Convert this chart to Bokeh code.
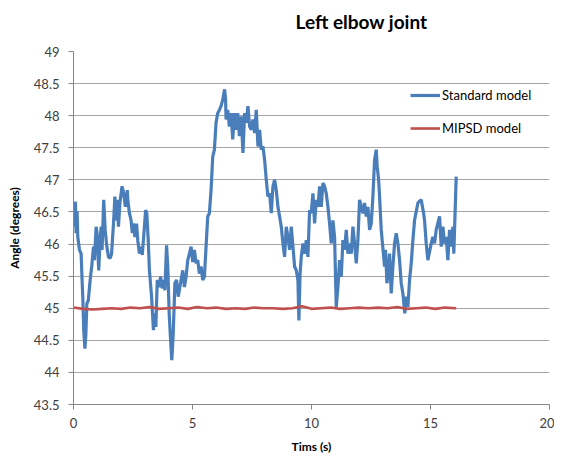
from bokeh.plotting import figure
from bokeh.models import Range1d, FixedTicker, Legend, LegendItem, Title
from bokeh.embed import file_html
from bokeh.resources import INLINE

title_text = "Left elbow joint"
x_label = "Tims (s)"
y_label = "Angle (degrees)"
series_names = ["Standard model", "MIPSD model"]

x_ticks = [0, 5, 10, 15, 20]
y_ticks = [43.5, 44, 44.5, 45, 45.5, 46, 46.5, 47, 47.5, 48, 48.5, 49]
y_tick_labels = ["43.5", "44", "44.5", "45", "45.5", "46", "46.5", "47", "47.5", "48", "48.5", "49"]

std_t = [0.04, 0.08, 0.11, 0.15, 0.18, 0.25, 0.32, 0.36, 0.39, 0.43, 0.48, 0.52, 0.56, 0.62, 0.70, 0.77,
         0.84, 0.88, 0.95, 0.99, 1.06, 1.11, 1.16, 1.20, 1.27, 1.33, 1.40, 1.47, 1.54, 1.60, 1.68, 1.74,
         1.78, 1.83, 1.89, 1.95, 2.04, 2.11, 2.18, 2.26, 2.28, 2.35, 2.42, 2.47, 2.52, 2.58, 2.65, 2.70,
         2.77, 2.84, 2.89, 2.96, 3.03, 3.08, 3.14, 3.19, 3.28, 3.36, 3.40, 3.46, 3.52, 3.59, 3.66, 3.73,
         3.80, 3.84, 3.91, 3.96, 4.02, 4.08, 4.13, 4.19, 4.26, 4.33, 4.40,
         4.52, 4.59, 4.66, 4.73, 4.80, 4.87, 4.94, 5.01, 5.08, 5.15, 5.22, 5.29, 5.36, 5.43, 5.50, 5.57,
         5.64, 5.71, 5.78, 5.85, 5.92, 5.99, 6.06, 6.13, 6.20, 6.27, 6.35, 6.39, 6.41, 6.48, 6.55, 6.62,
         6.69, 6.76, 6.83, 6.90, 6.97, 7.05, 7.12, 7.19, 7.26, 7.33, 7.40, 7.47, 7.54, 7.61, 7.68, 7.75,
         7.82, 7.89, 7.96, 8.03, 8.10, 8.17, 8.24, 8.31, 8.38, 8.45, 8.52, 8.59, 8.66, 8.73, 8.80, 8.87,
         8.94, 9.01, 9.08, 9.15, 9.22, 9.29, 9.36, 9.43, 9.47, 9.52, 9.57, 9.64, 9.71, 9.78, 9.85, 9.92,
         9.99, 10.06, 10.13, 10.20, 10.27, 10.34, 10.41, 10.48, 10.55, 10.62, 10.69, 10.76, 10.83, 10.90,
         10.97, 11.04, 11.11, 11.18, 11.25, 11.32, 11.39, 11.46, 11.53, 11.60, 11.67, 11.74, 11.81, 11.88,
         11.95, 12.02, 12.09, 12.16, 12.23, 12.30, 12.37, 12.44, 12.51, 12.58, 12.65, 12.72, 12.76, 12.82,
         12.86, 12.93, 13.07, 13.11, 13.17, 13.22, 13.28, 13.35, 13.42, 13.49, 13.56, 13.63, 13.70, 13.77,
         13.84, 13.92, 13.98, 14.05, 14.12, 14.19, 14.26, 14.33, 14.47, 14.61, 14.71, 14.75, 14.82, 14.89,
         15.03, 15.10, 15.17, 15.24, 15.38, 15.45, 15.52, 15.59, 15.66, 15.73, 15.80, 15.87, 15.94, 15.98,
         16.08]

std_angle = [46.27, 46.66, 46.17, 46.51, 46.11, 45.91, 45.85, 45.44, 45.18, 44.66, 44.37, 44.60, 45.07, 45.12, 45.44, 45.67,
             45.96, 45.75, 46.27, 46.17, 45.59, 46.01, 46.27, 45.91, 46.69, 46.22, 45.96, 45.80, 45.78, 45.85, 46.32, 46.74,
             46.37, 46.69, 46.27, 46.64, 46.90, 46.79, 46.58, 46.84, 46.69, 46.48, 46.37, 46.17, 46.32, 46.11, 46.32, 46.06,
             45.85, 45.96, 45.83, 46.17, 46.53, 46.48, 46.06, 45.59, 45.18, 44.66, 44.92, 44.71, 45.44, 45.33, 45.49, 45.31,
             45.44, 45.28, 45.98, 45.65, 44.92, 44.50, 44.19, 44.60, 45.39, 45.44, 45.18,
             45.44, 45.59, 45.33, 45.49, 45.75, 45.85, 45.96, 45.72, 45.91, 45.70, 45.75, 45.54, 45.65, 45.44, 45.49, 45.96,
             46.43, 46.48, 46.84, 47.36, 47.47, 47.89, 48.04, 48.09, 48.15, 48.25, 48.41, 48.25, 47.94, 48.09, 47.83, 48.04,
             47.63, 48.04, 47.78, 48.04, 47.68, 47.99, 47.42, 48.04, 47.89, 48.15, 47.83, 47.78, 47.94, 47.73, 48.09, 47.52,
             47.78, 47.47, 47.52, 47.31, 47.00, 46.74, 46.79, 46.48, 46.90, 47.00, 46.84, 46.58, 46.43, 46.27, 46.01, 45.80,
             46.27, 46.11, 45.91, 46.27, 45.96, 45.65, 45.59, 45.44, 44.81, 45.54, 45.80, 46.01, 45.85, 46.06, 45.80, 46.53,
             46.48, 46.79, 46.32, 46.69, 46.58, 46.90, 46.58, 46.95, 46.90, 46.79, 46.58, 46.32, 46.01, 46.37,
             46.11, 45.02, 45.33, 45.75, 45.49, 46.06, 45.91, 46.22, 45.85, 46.01, 45.85, 46.27, 46.01, 45.70,
             46.06, 46.69, 46.58, 46.48, 46.64, 46.43, 46.58, 46.22, 46.32, 46.74, 47.31, 47.47, 47.21, 47.00,
             46.74, 46.22, 45.65, 45.91, 45.39, 45.54, 45.85, 45.23, 45.65, 46.01, 46.17, 46.01, 45.75, 45.39,
             45.23, 44.92, 45.18, 45.02, 45.44, 45.70, 46.06, 46.37, 46.64, 46.69, 46.48, 46.37, 46.01, 45.75,
             46.01, 46.11, 46.01, 46.22, 46.43, 45.96, 46.27, 46.01, 46.11, 45.75, 46.22, 45.96, 46.27, 45.85,
             47.05]

mipsd_t = [0.0, 0.4, 0.8, 1.2, 1.6, 2.0, 2.4, 2.8, 3.2, 3.6, 4.0, 4.4, 4.8, 5.2, 5.6, 6.0, 6.4, 6.8, 7.2, 7.6,
           8.0, 8.4, 8.8, 9.2, 9.6, 10.0, 10.4, 10.8, 11.2, 11.6, 12.0, 12.4, 12.8, 13.2, 13.6, 14.0, 14.4,
           14.8, 15.2, 15.6, 16.08]
mipsd_angle = [45.01, 44.99, 44.98, 44.99, 45.0, 44.99, 45.01, 45.0, 45.02, 44.99, 45.0, 45.01, 44.99, 45.02,
               45.0, 45.01, 44.99, 45.0, 44.99, 45.01, 45.0, 45.0, 44.99, 45.0, 45.03, 44.99, 45.0, 45.01,
               44.99, 45.0, 45.01, 45.0, 45.01, 45.0, 45.02, 44.99, 45.0, 45.01, 44.99, 45.01, 45.0]

FONT = "Lato"
TXT = "#404040"

p = figure(width=554, height=456, output_backend="svg", toolbar_location=None,
           x_range=Range1d(0, 20), y_range=Range1d(43.5, 49),
           min_border_left=73, min_border_right=5, min_border_top=51, min_border_bottom=51)
p.outline_line_color = None
p.background_fill_color = "white"

# real title is the outermost one; a small blank spacer title sits between it and the frame
p.title.text = title_text
p.title.text_font = FONT
p.title.text_font_size = "19px"
p.title.text_font_style = "bold"
p.title.text_color = "black"
p.title.align = "left"
p.title.offset = 222
p.title.vertical_align = "top"
p.title.standoff = 16
p.add_layout(Title(text=" ", text_font_size="2px", standoff=5), "above")

r1 = p.line(std_t, std_angle, line_color="#4a7ebb", line_width=3.2)
r2 = p.line(mipsd_t, mipsd_angle, line_color="#c0504d", line_width=2.6)

p.xaxis.ticker = FixedTicker(ticks=x_ticks)
p.yaxis.ticker = FixedTicker(ticks=y_ticks)
p.yaxis.major_label_overrides = {t: s for t, s in zip(y_ticks, y_tick_labels)}
for ax in (p.xaxis[0], p.yaxis[0]):
    ax.axis_line_color = "#868686"
    ax.major_tick_line_color = "#868686"
    ax.major_tick_out = 5
    ax.major_tick_in = 0
    ax.minor_tick_line_color = None
    ax.major_label_text_font = FONT
    ax.major_label_text_font_size = "13px"
    ax.major_label_text_color = TXT
    ax.axis_label_text_font = FONT
    ax.axis_label_text_font_size = "12px"
    ax.axis_label_text_font_style = "bold"
    ax.axis_label_text_color = "black"
p.xaxis.axis_label = x_label
p.yaxis.axis_label = y_label
p.xaxis.major_label_standoff = 8
p.xaxis.axis_label_standoff = 8
p.yaxis.major_label_standoff = 9
p.yaxis.axis_label_standoff = 9

p.xgrid.grid_line_color = None
p.ygrid.grid_line_color = "#a6a6a6"
p.ygrid.grid_line_width = 1

legend = Legend(items=[LegendItem(label=series_names[0], renderers=[r1]),
                       LegendItem(label=series_names[1], renderers=[r2])],
                location=(337, 266), background_fill_alpha=0, border_line_alpha=0,
                padding=0, margin=0, glyph_width=30, glyph_height=20, label_height=20,
                spacing=13, label_standoff=2, label_text_font=FONT,
                label_text_font_size="13px", label_text_color="black")
p.add_layout(legend)

open("out.html", "w").write(file_html(p, INLINE))
